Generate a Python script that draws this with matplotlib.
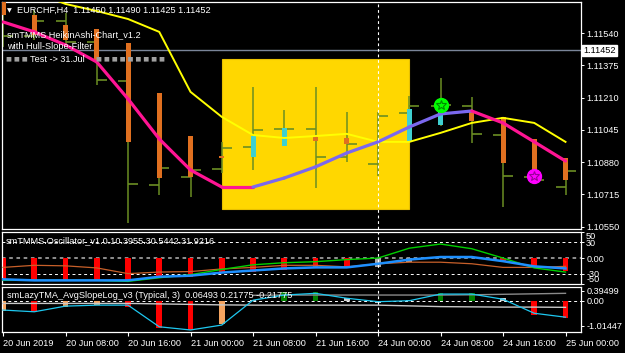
import matplotlib
matplotlib.use("Agg")
import matplotlib.pyplot as plt
import matplotlib.transforms as mtransforms
from matplotlib.collections import LineCollection
from matplotlib.patches import Rectangle

# ---------------- data ----------------
x_labels = ["20 Jun 2019", "20 Jun 08:00", "20 Jun 16:00", "21 Jun 00:00", "21 Jun 08:00",
            "21 Jun 16:00", "24 Jun 00:00", "24 Jun 08:00", "24 Jun 16:00", "25 Jun 00:00"]

bar_open = [1.11634, 1.11526, 1.11603, 1.11496, 1.11296, 1.10764, 1.10804, 1.10845, 1.10958, 1.11050,
            1.11050, 1.10907, 1.10871, 1.11132, 1.11168, 1.11168, 1.11020, 1.10804, 1.10753]
bar_high = [1.11752, 1.11660, 1.11644, 1.11562, 1.11332, 1.10943, 1.10866, 1.10984, 1.11265, 1.11148,
            1.11265, 1.11137, 1.11137, 1.11219, 1.11311, 1.11214, 1.11096, 1.10994, 1.10866]
bar_low = [1.11470, 1.11506, 1.11480, 1.11276, 1.10569, 1.10712, 1.10702, 1.10825, 1.10840, 1.10963,
           1.10748, 1.10881, 1.10810, 1.10994, 1.11066, 1.10979, 1.10651, 1.10774, 1.10712]
bar_close = [1.11526, 1.11603, 1.11496, 1.11301, 1.10769, 1.10851, 1.10840, 1.10953, 1.11045, 1.11050,
             1.10907, 1.10973, 1.11117, 1.11168, 1.11173, 1.11025, 1.10810, 1.10789, 1.10835]

ha_open = [1.11721, 1.11634, 1.11583, 1.11562, 1.11491, 1.11235, 1.11014, 1.10912, 1.10907, 1.10963,
           1.11009, 1.11004, 1.10989, 1.10989, 1.11071, 1.11142, 1.11112, 1.10999, 1.10902]
ha_close = [1.11634, 1.11532, 1.11506, 1.11404, 1.10984, 1.10799, 1.10804, 1.10902, 1.11014, 1.11055,
            1.10989, 1.10973, 1.10984, 1.11153, 1.11188, 1.11091, 1.10876, 1.10804, 1.10789]

slow_ma = [1.11839, 1.11752, 1.11690, 1.11654, 1.11613, 1.11547, 1.11240, 1.11112, 1.11019, 1.11004,
           1.11014, 1.11025, 1.10984, 1.10984, 1.11030, 1.11081, 1.11107, 1.11081, 1.10984]
hull_ma = [1.11598, 1.11547, 1.11480, 1.11393, 1.11204, 1.10999, 1.10840, 1.10753, 1.10753, 1.10799,
           1.10856, 1.10927, 1.10984, 1.11060, 1.11127, 1.11142, 1.11081, 1.10984, 1.10886]

price_ticks = [1.11540, 1.11375, 1.11210, 1.11045, 1.10880, 1.10715, 1.10550]
bid_price = 1.11452
zone_start, zone_end = 7, 13
zone_top, zone_bottom = 1.11409, 1.10641
separator_bar = 12
buy_signal = (14, 1.11173)
sell_signal = (17, 1.10810)

osc_hist = [-44, -44, -44, -44, -44, -38, -36, -29, -27, -23, -19, -19, -17, -8, 0, 0, -8, -19, -25]
osc_hist_state = ["r", "r", "r", "r", "r", "r", "r", "r", "r", "r", "r", "r", "g", "g", "n", "n", "r", "r", "r"]
osc_blue = [-41, -43, -43, -43, -43, -36, -34, -28, -24, -20, -18, -18, -11, -3, 2, 2, -6, -16, -20]
osc_green = [-43, -43, -43, -43, -45, -38, -32, -22, -13, -9, -7, -3, 0, 19, 27, 18, 0, -19, -27]
osc_brown = [-18, -14, -15, -19, -30, -27, -26, -21, -18, -14, -14, -17, -11, -8, -8, -11, -18, -18, -16]
osc_ticks = [50, 30, 0, -30, -50]
osc_tick_labels = ["50", "30", "0.00", "-30", "-50"]

slope_hist = [-0.41, -0.45, -0.24, -0.18, -0.24, -1.12, -1.19, -0.95, 0.02, 0.36, 0.36, 0.10, -0.08, 0.03,
              0.33, 0.33, 0.09, -0.58, -0.69]
slope_state = ["s", "r", "s", "s", "r", "r", "r", "s", "w", "g", "g", "w", "w", "w", "g", "g", "w", "r", "r"]
slope_line = [-0.38, -0.45, -0.22, -0.18, -0.18, -1.06, -1.19, -0.99, 0.02, 0.23, 0.30, 0.10, -0.04, 0.00,
              0.27, 0.27, 0.06, -0.51, -0.67]
slope_upper = [None, None, None, None, None, None, None, None, 0.22, 0.23, 0.23, 0.23, 0.23, 0.23, 0.23,
               0.24, 0.26, 0.28, 0.30]
slope_lower = [-0.11, -0.11, -0.11, -0.11, -0.11, -0.13, -0.15, -0.17, -0.18, -0.18, -0.18, -0.18, -0.18,
               -0.21, -0.24, -0.25, -0.26, -0.26, -0.27]
slope_ticks = [0.39499, 0.0, -1.01447]
slope_tick_labels = ["0.39499", "0.00", "-1.01447"]

# ---------------- style / layout ----------------
W, H = 625, 353
FONT = ["Liberation Sans", "DejaVu Sans"]
FS = 6.6
plt.rcParams["font.family"] = FONT
BG = "black"
n = len(bar_open)
xs = list(range(n))
PX_PER_BAR = 31.25
xlim = ((2 - 3) / PX_PER_BAR, (581 - 3) / PX_PER_BAR)


def box(top, bottom, left=2, right=581):
    return [left / W, 1 - bottom / H, (right - left) / W, (bottom - top) / H]


fig = plt.figure(figsize=(W / 100, H / 100), dpi=100, facecolor=BG)
ax = fig.add_axes(box(2, 229))
ax1 = fig.add_axes(box(232, 284))
ax2 = fig.add_axes(box(287, 332))

for a in (ax, ax1, ax2):
    a.set_facecolor(BG)
    a.set_xlim(*xlim)
    for s in a.spines.values():
        s.set_color("white")
        s.set_linewidth(0.9)
    a.yaxis.tick_right()
    a.tick_params(axis="y", colors="white", labelsize=FS, length=2.2, width=0.7, pad=1.5,
                  direction="out")
    a.tick_params(axis="x", bottom=False, labelbottom=False)
    a.axvline(separator_bar, color="white", lw=0.8, ls=(0, (2.5, 2.5)), zorder=8)

# ---- main chart ----
ax.set_ylim(1.10538, 1.11700)
ax.add_patch(Rectangle((zone_start, zone_bottom), zone_end - zone_start, zone_top - zone_bottom,
                       facecolor="#FFD700", edgecolor="#E8C000", lw=0.8, zorder=1))
ax.axhline(bid_price, color="#7A8599", lw=1.0, zorder=1.5)

tick = 0.32
ax.vlines(xs, bar_low, bar_high, color="#6B8E23", lw=1.1, zorder=2)
ax.hlines(bar_open, [x - tick for x in xs], xs, color="#6B8E23", lw=1.2, zorder=2)
ax.hlines(bar_close, xs, [x + tick for x in xs], color="#6B8E23", lw=1.2, zorder=2)

ha_colors = ["#3FD0D0" if c > o else "#E07020" for o, c in zip(ha_open, ha_close)]
ha_bottom = [min(o, c) for o, c in zip(ha_open, ha_close)]
ha_height = [max(abs(c - o), 0.00004) for o, c in zip(ha_open, ha_close)]
ax.bar(xs, ha_height, bottom=ha_bottom, width=0.16, color=ha_colors, zorder=3)

ax.plot(xs, slow_ma, color="#FFFF00", lw=1.4, zorder=4, solid_joinstyle="round")
segs = [[(i, hull_ma[i]), (i + 1, hull_ma[i + 1])] for i in range(n - 1)]
seg_colors = ["#7B68EE" if hull_ma[i + 1] > hull_ma[i] else "#FF1493" for i in range(n - 1)]
ax.add_collection(LineCollection(segs, colors=seg_colors, linewidths=2.3, zorder=5,
                                 capstyle="round"))

for (bx, by), fc, ec in ((buy_signal, "#00FF00", "#008800"), (sell_signal, "#FF00FF", "#990099")):
    ax.plot([bx], [by], "o", ms=10, mfc=fc, mec=fc, zorder=6)
    ax.plot([bx], [by], "*", ms=7.5, mfc=fc, mec=ec, mew=0.8, zorder=7)

ax.set_yticks(price_ticks)
ax.set_yticklabels([f"{p:.5f}" for p in price_ticks])
trans = mtransforms.blended_transform_factory(ax.transAxes, ax.transData)
ax.text(1.0035, bid_price, f"{bid_price:.5f}", transform=trans, ha="left", va="center",
        fontsize=FS, color="black", zorder=10, clip_on=False,
        bbox=dict(boxstyle="square,pad=0.12", fc="white", ec="white"))


def ftext(px, py, s, color="white", size=FS, **kw):
    fig.text(px / W, 1 - py / H, s, color=color, fontsize=size, ha="left", va="center", **kw)


ftext(7, 10.5, "\u25BC", size=4.5, family=["DejaVu Sans"])
ftext(17, 10.5, "EURCHF,H4  1.11450 1.11490 1.11425 1.11452")
ftext(7, 35, "smTMMS HeikinAshi-Chart_v1.2")
ftext(7, 46.5, "with Hull-Slope-Filter")
ftext(6, 59, " ".join(["\u25A0"] * 3), color="#A0A0A0", size=4.5, family=["DejaVu Sans"])
ftext(30, 59, "Test -> 31.Jul")
ftext(96, 59, " ".join(["\u25A0"] * 9), color="#A0A0A0", size=4.5, family=["DejaVu Sans"])

# ---- oscillator sub window ----
ax1.set_ylim(-49, 50.2)
hist_col = {"r": "#FF0000", "g": "#A9A9A9", "n": "#000000"}
ax1.bar(xs, osc_hist, width=0.19, color=[hist_col[s] for s in osc_hist_state], zorder=2)
ax1.axhline(30, color="white", lw=0.7, ls=(0, (3, 3)), zorder=1)
ax1.axhline(-30, color="white", lw=0.7, ls=(0, (3, 3)), zorder=1)
ax1.axhline(0, color="#9A9A9A", lw=1.3, ls=(0, (2, 2)), zorder=1)
ax1.plot(xs, osc_brown, color="#C8602A", lw=0.9, zorder=3)
ax1.plot(xs, osc_green, color="#00D000", lw=1.0, zorder=3)
ax1.plot(xs, osc_blue, color="#1E90FF", lw=1.8, zorder=4)
ax1.set_yticks(osc_ticks)
ax1.set_yticklabels(osc_tick_labels)
labs = ax1.get_yticklabels()
labs[0].set_va("top")
labs[-1].set_va("bottom")
ax1.text(0.006, 0.84, "smTMMS.Oscillator_v1.0.10.3955.30.5442.31.9216", transform=ax1.transAxes,
         color="white", fontsize=FS, ha="left", va="center", zorder=9)

# ---- slope sub window ----
ax2.set_ylim(-1.272, 0.557)
slope_col = {"s": "#F4A460", "r": "#FF0000", "g": "#008000", "w": "#D0D0D0"}
ax2.bar(xs, slope_hist, width=0.19, color=[slope_col[s] for s in slope_state], zorder=2)
ax2.axhline(0, color="white", lw=0.7, ls=(0, (3, 3)), zorder=1)
ax2.plot(xs, [float("nan") if v is None else v for v in slope_upper], color="#8A8A8A", lw=1.0, zorder=3)
ax2.plot(xs, slope_lower, color="#C8C8C8", lw=1.0, zorder=3)
ax2.plot(xs, slope_line, color="#1EC8F0", lw=0.9, zorder=4)
ax2.set_yticks(slope_ticks)
ax2.set_yticklabels(slope_tick_labels)
ax2.text(0.009, 0.80, "smLazyTMA_AvgSlopeLog_v3 (Typical, 3)  0.06493 0.21775 -0.21775",
         transform=ax2.transAxes, color="white", fontsize=FS, ha="left", va="center", zorder=9)

ax2.tick_params(axis="x", bottom=True, labelbottom=True, colors="white", labelsize=FS,
                length=3, width=0.8, pad=2)
ax2.set_xticks(xs[::2])
ax2.set_xticklabels(x_labels)
for lab in ax2.get_xticklabels():
    lab.set_ha("left")

fig.savefig("out.png", dpi=100, facecolor=BG)
